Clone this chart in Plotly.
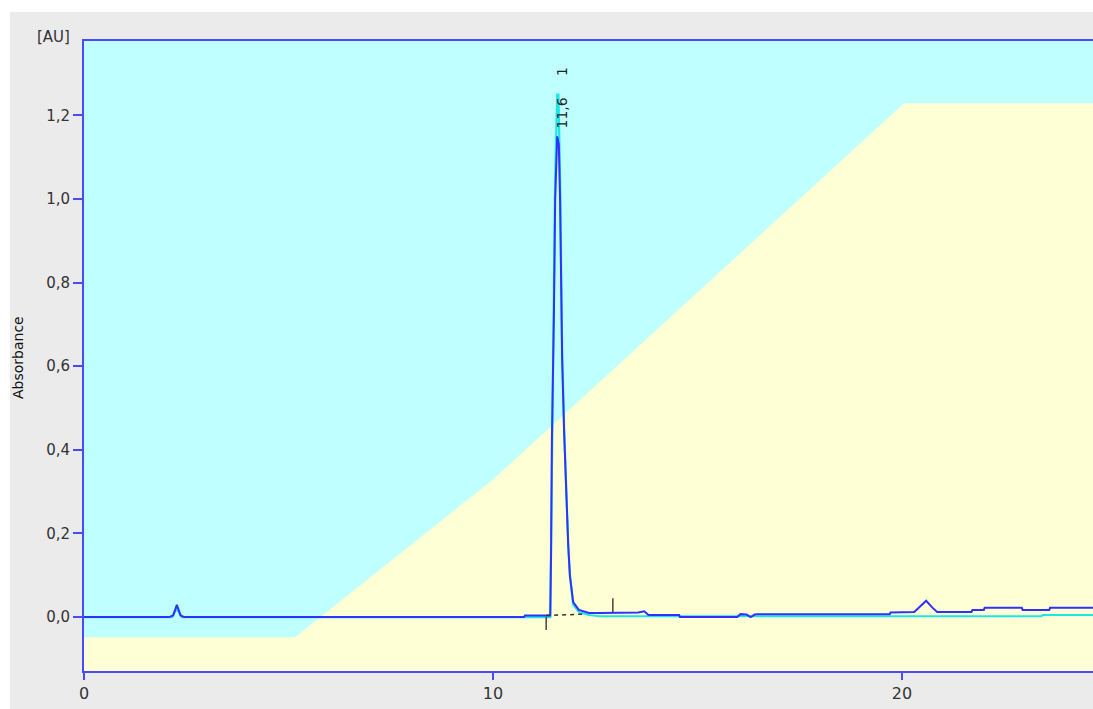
import plotly.graph_objects as go

# ---------------- data ----------------
# gradient profile (background split)
grad_time = [0, 5.16, 10.0, 20.05, 24.67]
grad_val = [-0.048, -0.048, 0.329, 1.229, 1.229]

# main chromatogram (blue)
blue_time = [0, 2.08, 2.18, 2.27, 2.36, 2.45, 2.55, 10.76, 10.78, 11.40, 11.42, 11.44,
             11.49, 11.52, 11.57, 11.61, 11.64, 11.69, 11.74, 11.78, 11.84, 11.88, 11.96,
             12.10, 12.35, 12.6, 13.4, 13.55, 13.7, 13.8, 14.55, 14.57, 15.97, 16.05, 16.2,
             16.3, 16.4, 16.45, 19.7, 19.72, 20.3, 20.45, 20.59, 20.75, 20.86, 21.7, 21.72,
             22.0, 22.02, 22.93, 22.95, 23.6, 23.62, 24.67]
blue_abs = [0, 0, 0.004, 0.029, 0.004, 0, 0, 0, 0.004, 0.004, 0.154, 0.42,
            0.73, 1.0, 1.15, 1.13, 1.0, 0.62, 0.44, 0.31, 0.17, 0.10, 0.036,
            0.017, 0.010, 0.0095, 0.0095, 0.011, 0.014, 0.005, 0.005, 0.0, 0.0, 0.007, 0.006,
            0.0, 0.006, 0.007, 0.007, 0.011, 0.012, 0.025, 0.039, 0.022, 0.012, 0.012, 0.017,
            0.017, 0.022, 0.022, 0.017, 0.017, 0.022, 0.022]

# second channel (cyan)
cyan_time = [0, 2.15, 2.27, 2.4, 11.40, 11.42, 11.44, 11.49, 11.52, 11.57, 11.60, 11.64,
             11.69, 11.74, 11.78, 11.84, 11.88, 11.96, 12.10, 12.35, 12.6, 23.4, 23.45, 24.67]
cyan_abs = [0, 0, 0.02, 0, 0.0, 0.16, 0.43, 0.76, 1.05, 1.25, 1.25, 1.05,
            0.64, 0.45, 0.32, 0.17, 0.10, 0.03, 0.012, 0.005, 0.002, 0.002, 0.005, 0.005]

# integration marks for peak 1
peak_start, peak_end = 11.3, 12.93
base_end_time = 12.25
base_start_val, base_end_val = 0.004, 0.007
peak_rt_label = "11,6"
peak_no_label = "1"
peak_label_x = 11.69
peak_rt_y, peak_no_y = 1.205, 1.304

y_ticks = [0, 0.2, 0.4, 0.6, 0.8, 1.0, 1.2]
y_ticktext = ["0,0", "0,2", "0,4", "0,6", "0,8", "1,0", "1,2"]
x_ticks = [0, 10, 20]

x_range = [0, 24.67]
y_range = [-0.129, 1.378]

# ---------------- styling ----------------
W, H = 1093, 709
ML, MR, MT, MB = 84, 0, 41, 38
AXIS_BLUE = "#4a4aff"
LINE_BLUE = "#3030ff"
LINE_CYAN = "#1ee6e6"
BG_CYAN = "#c0ffff"
BG_YELLOW = "#ffffd5"
GRAY = "#ebebeb"
TXT = "#333333"
FONT = "DejaVu Sans"

fig = go.Figure()

# yellow region below gradient line
fig.add_trace(go.Scatter(
    x=grad_time + [grad_time[-1], grad_time[0]],
    y=grad_val + [y_range[0] - 0.05, y_range[0] - 0.05],
    mode="lines", fill="toself", fillcolor=BG_YELLOW,
    line=dict(width=0, color=BG_YELLOW), hoverinfo="skip", showlegend=False))

# cyan channel
fig.add_trace(go.Scatter(x=cyan_time, y=cyan_abs, mode="lines",
                         line=dict(color=LINE_CYAN, width=2.2), showlegend=False))
# blue channel
fig.add_trace(go.Scatter(x=blue_time, y=blue_abs, mode="lines",
                         line=dict(color=LINE_BLUE, width=2), showlegend=False))

# integration baseline (dashed) and markers
fig.add_trace(go.Scatter(x=[peak_start, base_end_time], y=[base_start_val, base_end_val],
                         mode="lines", line=dict(color="#333333", width=1.5, dash="4px,4px"),
                         showlegend=False))
fig.add_trace(go.Scatter(x=[peak_start, peak_start], y=[0, -0.031], mode="lines",
                         line=dict(color="#444444", width=1.5), showlegend=False))
fig.add_trace(go.Scatter(x=[peak_end, peak_end], y=[0.012, 0.045], mode="lines",
                         line=dict(color="#444444", width=1.5), showlegend=False))

# peak labels
fig.add_annotation(x=peak_label_x, y=peak_rt_y, text=peak_rt_label, showarrow=False,
                   textangle=-90, font=dict(family=FONT, size=14, color="#222222"))
fig.add_annotation(x=peak_label_x, y=peak_no_y, text=peak_no_label, showarrow=False,
                   textangle=-90, font=dict(family=FONT, size=14, color="#222222"))

# axis unit and title
fig.add_annotation(xref="paper", yref="paper", x=0, y=1, xanchor="right", yanchor="middle",
                   xshift=-12, yshift=4, text="[AU]", showarrow=False,
                   font=dict(family=FONT, size=15, color=TXT))
fig.add_annotation(xref="paper", yref="paper", x=0, y=(H - MB - 358) / (H - MT - MB),
                   xanchor="center", yanchor="middle", xshift=-66, text="Absorbance",
                   textangle=-90, showarrow=False,
                   font=dict(family=FONT, size=14, color="#111111"))

# white frame strips (top & left) around the gray page
pw = W - ML - MR
ph = H - MT - MB
fig.add_shape(type="rect", xref="paper", yref="paper", layer="below",
              x0=-ML / pw, x1=1 + MR / pw, y0=1 + (MT - 12) / ph, y1=1 + MT / ph,
              fillcolor="white", line=dict(width=0))
fig.add_shape(type="rect", xref="paper", yref="paper", layer="below",
              x0=-ML / pw, x1=-(ML - 10) / pw, y0=-MB / ph, y1=1 + MT / ph,
              fillcolor="white", line=dict(width=0))

fig.update_layout(
    width=W, height=H,
    margin=dict(l=ML, r=MR, t=MT, b=MB, pad=0),
    paper_bgcolor=GRAY, plot_bgcolor=BG_CYAN,
    showlegend=False,
    xaxis=dict(range=x_range, tickvals=x_ticks, ticktext=[str(v) for v in x_ticks],
               showgrid=False, zeroline=False, showline=True, linecolor=AXIS_BLUE,
               linewidth=2, mirror=True, ticks="outside", ticklen=7, tickcolor=AXIS_BLUE,
               tickwidth=1.5, tickfont=dict(family=FONT, size=16, color=TXT)),
    yaxis=dict(range=y_range, tickvals=y_ticks, ticktext=y_ticktext,
               showgrid=False, zeroline=False, showline=True, linecolor=AXIS_BLUE,
               linewidth=2, mirror=False, ticks="outside", ticklen=9, tickcolor=AXIS_BLUE,
               tickwidth=1.5, tickfont=dict(family=FONT, size=15, color=TXT)),
)

fig.write_html(
    "out.html",
    config={"displayModeBar": False},
    post_script="document.body.style.margin='0';document.body.style.overflow='hidden';",
)
